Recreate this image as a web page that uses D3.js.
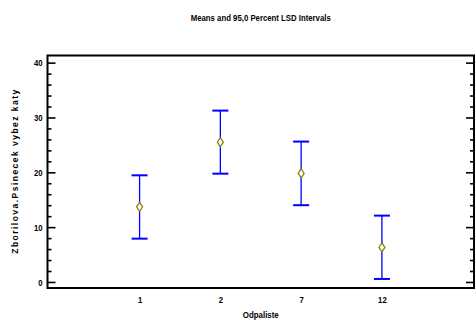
<!DOCTYPE html>
<html>
<head>
<meta charset="utf-8">
<script src="https://cdn.jsdelivr.net/npm/d3@7"></script>
<style>
  body { margin: 0; background: #fff; }
  text { font-family: "Liberation Sans", Arial, sans-serif; font-weight: bold; }
</style>
</head>
<body>
<div id="graph"></div>
<script>
// data
var categories = ["1", "2", "7", "12"];
var means = [13.7, 25.5, 19.8, 6.3];
var lower = [7.9, 19.75, 14.0, 0.55];
var upper = [19.45, 31.25, 25.6, 12.1];
var majorTicks = [0, 10, 20, 30, 40];
var minorTicks = [2, 4, 6, 8, 12, 14, 16, 18, 22, 24, 26, 28, 32, 34, 36, 38];

var width = 476,
    height = 320;

var plotLeft = 47.5, plotRight = 474, plotTop = 55.5, plotBottom = 288;

var svg = d3.select("#graph")
    .append("svg")
    .attr("width", width)
    .attr("height", height);

var x = d3.scalePoint()
    .domain(categories)
    .range([plotLeft, plotRight])
    .padding(1.14);

var y = d3.scaleLinear()
    .domain([-1.1, 41.3])
    .range([plotBottom, plotTop]);

// narrow bold look: squeeze text horizontally
function narrow(sel, len) {
  sel.attr("textLength", len).attr("lengthAdjust", "spacingAndGlyphs");
}

// title
svg.append("text")
    .attr("x", (plotLeft + plotRight) / 2)
    .attr("y", 21)
    .attr("text-anchor", "middle")
    .attr("font-size", "9.5px")
    .text("Means and 95,0 Percent LSD Intervals")
    .call(narrow, 140);

// y axes, ticks point inside
var yLeft = svg.append("g")
    .attr("transform", "translate(" + plotLeft + ",0)")
    .call(d3.axisLeft(y).tickValues(majorTicks).tickSize(-8).tickPadding(5).tickFormat(d3.format("d")));
svg.append("g")
    .attr("transform", "translate(" + plotLeft + ",0)")
    .call(d3.axisLeft(y).tickValues(minorTicks).tickSize(-4).tickFormat(""));
svg.append("g")
    .attr("transform", "translate(" + plotRight + ",0)")
    .call(d3.axisRight(y).tickValues(majorTicks).tickSize(-8).tickFormat(""));
svg.append("g")
    .attr("transform", "translate(" + plotRight + ",0)")
    .call(d3.axisRight(y).tickValues(minorTicks).tickSize(-4).tickFormat(""));

svg.selectAll(".domain").remove();
svg.selectAll(".tick line").attr("stroke", "#000").attr("stroke-width", 1.6);
yLeft.selectAll(".tick text")
    .attr("font-size", "9.5px")
    .attr("font-family", "'Liberation Sans', Arial, sans-serif")
    .attr("font-weight", "bold")
    .attr("fill", "#000")
    .each(function() {
      var t = d3.select(this);
      narrow(t, t.text().length * 4.3);
    });

// x labels
var xAxis = svg.append("g")
    .attr("transform", "translate(0," + plotBottom + ")")
    .call(d3.axisBottom(x).tickSize(0).tickPadding(8));
xAxis.select(".domain").remove();
xAxis.selectAll(".tick text")
    .attr("font-size", "9.5px")
    .attr("font-family", "'Liberation Sans', Arial, sans-serif")
    .attr("font-weight", "bold")
    .attr("fill", "#000")
    .each(function() {
      var t = d3.select(this);
      narrow(t, t.text().length * 4.3);
    });

// plot border
svg.append("rect")
    .attr("x", plotLeft)
    .attr("y", plotTop)
    .attr("width", plotRight - plotLeft)
    .attr("height", plotBottom - plotTop)
    .attr("fill", "none")
    .attr("stroke", "#000")
    .attr("stroke-width", 2);

// axis titles
svg.append("text")
    .attr("x", (plotLeft + plotRight) / 2)
    .attr("y", 318)
    .attr("text-anchor", "middle")
    .attr("font-size", "9.5px")
    .text("Odpaliste")
    .call(narrow, 36);

svg.append("text")
    .attr("transform", "translate(18," + ((plotTop + plotBottom) / 2) + ") rotate(-90)")
    .attr("text-anchor", "middle")
    .attr("font-size", "8.5px")
    .attr("textLength", 164)
    .attr("lengthAdjust", "spacing")
    .text("Zborilova.Psinecek vybez katy");

// interval bars
var bars = svg.append("g").selectAll("g")
    .data(categories)
    .enter()
    .append("g");

bars.append("line")
    .attr("x1", d => x(d)).attr("x2", d => x(d))
    .attr("y1", (d, i) => y(upper[i])).attr("y2", (d, i) => y(lower[i]))
    .attr("stroke", "#0000ff").attr("stroke-width", 1.3);
bars.append("line")
    .attr("x1", d => x(d) - 8).attr("x2", d => x(d) + 8)
    .attr("y1", (d, i) => y(upper[i])).attr("y2", (d, i) => y(upper[i]))
    .attr("stroke", "#0000ff").attr("stroke-width", 2);
bars.append("line")
    .attr("x1", d => x(d) - 8).attr("x2", d => x(d) + 8)
    .attr("y1", (d, i) => y(lower[i])).attr("y2", (d, i) => y(lower[i]))
    .attr("stroke", "#0000ff").attr("stroke-width", 2);

// mean markers
bars.append("path")
    .attr("d", (d, i) => {
      var cx = x(d), cy = y(means[i]);
      return "M" + cx + "," + (cy - 4.5) + "L" + (cx + 3) + "," + cy + "L" + cx + "," + (cy + 4.5) + "L" + (cx - 3) + "," + cy + "Z";
    })
    .attr("fill", "#fff")
    .attr("stroke", "#808000")
    .attr("stroke-width", 1.2);
</script>
</body>
</html>
